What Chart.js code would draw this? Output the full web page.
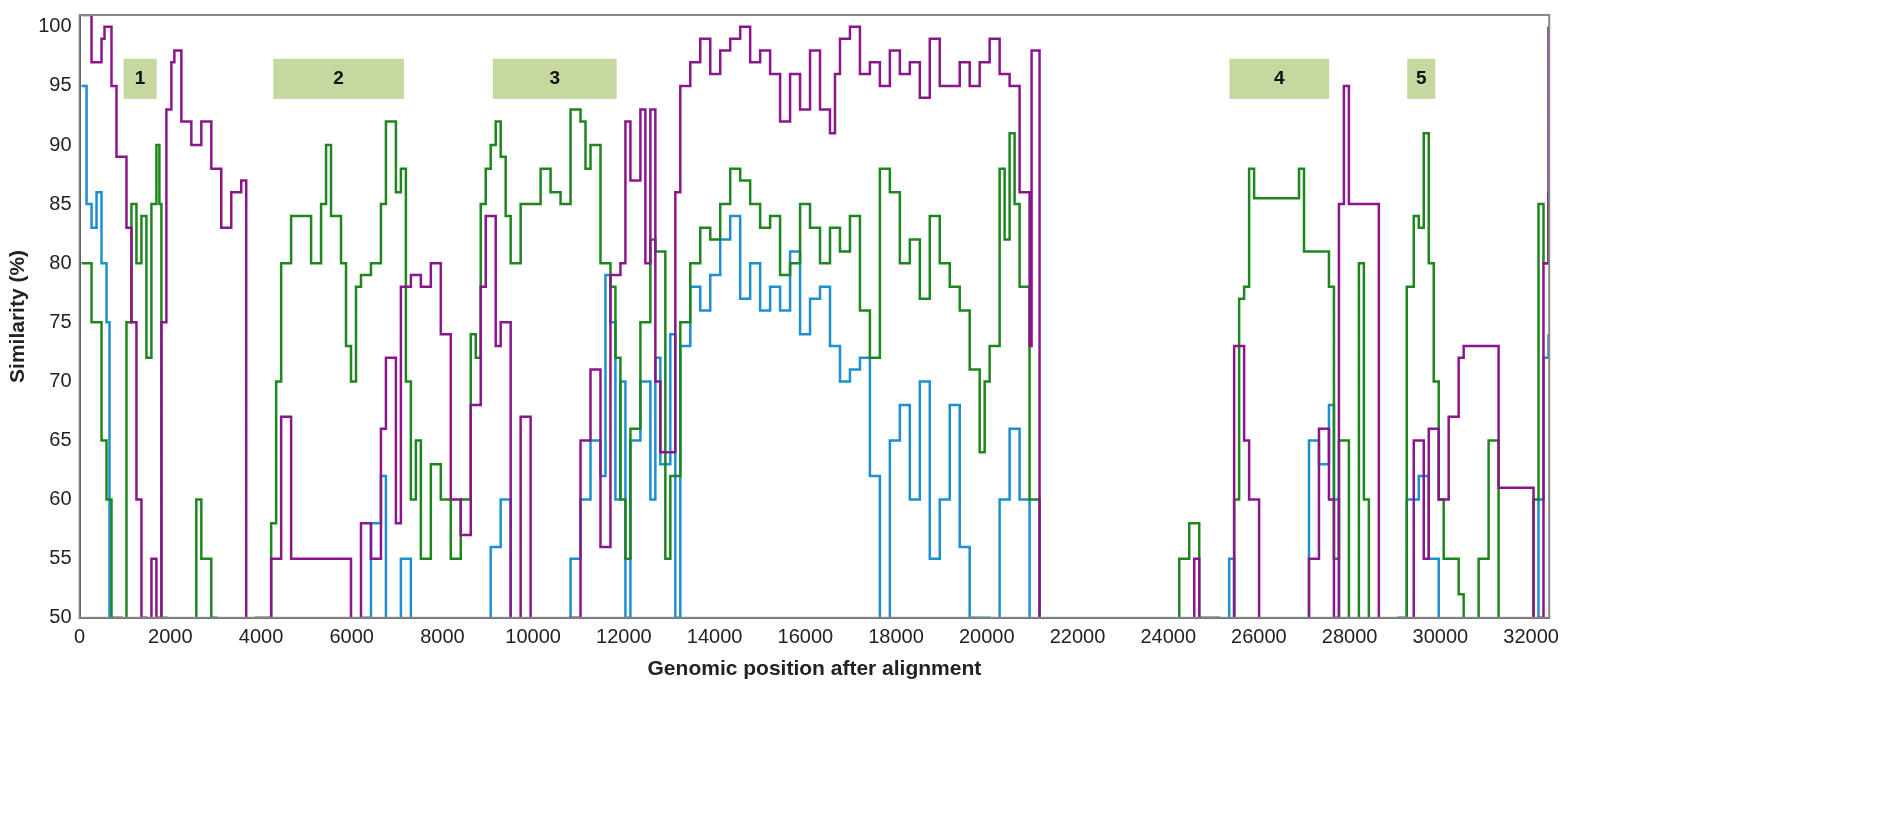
<!DOCTYPE html>
<html>
<head>
<meta charset="utf-8">
<script src="https://cdn.jsdelivr.net/npm/chart.js@4/dist/chart.umd.min.js"></script>
<style>
  body { margin: 0; background: #fff; }
  #wrap { position: absolute; left: 0; top: 0; width: 1562px; height: 834px; }
</style>
</head>
<body>
<div id="wrap"><canvas id="chart"></canvas></div>
<script>
// genomic positions / similarity values (values < 50 are off-scale)
const purpleX = [44,264,484,550,704,814,1034,1144,1254,1364,1474,1584,1694,1804,1914,2024,2090,2244,2464,2684,2904,3124,3344,3564,3674,4004,4224,4444,4664,5984,6204,6424,6644,6754,6974,7084,7304,7524,7744,7964,8184,8404,8624,8844,8954,9174,9284,9504,9724,9944,10164,10824,11044,11264,11484,11704,11924,12034,12144,12364,12474,12584,12694,12804,13024,13134,13244,13464,13684,13904,14124,14344,14564,14784,15004,15224,15444,15664,15884,16104,16324,16544,16654,16764,16984,17204,17424,17644,17864,18084,18304,18524,18744,18964,19404,19624,19844,20064,20284,20504,20724,20944,20988,21164,24464,24574,24684,25344,25454,25674,25784,25894,26004,27104,27324,27544,27654,27764,27874,27984,28644,29260,29414,29634,29744,29964,30184,30404,30514,30734,31064,31108,31284,31834,32054,32164,32274,32384];
const purpleY = [101,97,99,100,95,89,83,75,60,50,45,55,50,75,93,97,98,92,90,92,88,83,86,87,40,40,55,67,55,40,58,55,66,72,58,78,79,78,80,74,60,57,68,78,84,73,75,48,67,48,40,50,65,71,56,79,80,92,87,93,80,93,70,64,64,86,95,97,99,96,98,99,100,97,98,96,92,96,93,98,93,91,96,99,100,96,97,95,98,96,97,94,99,95,97,95,97,99,96,95,86,73,98,40,40,55,40,40,73,65,60,60,40,55,66,60,50,85,95,85,40,40,65,55,66,60,67,72,73,73,73,73,61,61,40,50,80,100,100];

const greenX = [44,264,484,594,704,924,1034,1144,1254,1364,1474,1584,1694,1760,1804,1914,2464,2574,2684,2904,3014,3894,4224,4334,4444,4664,4884,5104,5324,5434,5544,5764,5874,5984,6094,6204,6424,6644,6754,6974,7084,7194,7304,7414,7524,7744,7964,8184,8404,8624,8734,8844,8954,9064,9174,9284,9394,9504,9724,9834,10164,10384,10604,10824,11044,11154,11264,11484,11704,11814,11924,12034,12144,12364,12584,12694,12914,13024,13244,13464,13684,13904,14124,14344,14564,14784,15004,15224,15444,15664,15884,16104,16324,16544,16764,16984,17204,17424,17644,17864,18084,18304,18524,18744,18964,19184,19404,19624,19844,19954,20064,20284,20394,20504,20614,20724,20944,21164,24244,24464,24684,25124,25454,25564,25674,25784,25894,26774,26884,26994,27434,27544,27654,27764,27984,28204,28314,28424,29084,29260,29414,29524,29634,29744,29854,29964,30074,30404,30514,30844,31064,31284,32054,32164,32274,32384];
const greenY = [80,75,65,60,50,40,75,85,80,84,72,85,90,85,50,40,40,60,55,50,40,50,58,70,80,84,84,80,85,90,84,80,73,70,78,79,80,85,92,86,88,70,60,65,55,63,60,55,60,74,72,85,88,90,92,89,84,80,85,85,88,86,85,93,92,88,90,80,78,72,60,55,66,75,82,81,55,62,75,80,83,82,85,88,87,85,83,84,79,80,85,83,80,83,81,84,76,72,88,86,80,82,77,84,80,78,76,71,64,70,73,88,82,91,85,78,60,48,55,58,50,40,60,77,78,88,85.5,85.5,88,81,81,78,55,65,40,80,60,40,50,78,84,83,91,80,70,60,55,52,40,55,65,40,60,85,80,86];

const blueX = [44,154,264,374,484,594,660,704,5984,6204,6424,6644,6754,7084,7304,8844,9064,9284,9504,9724,10604,10824,11044,11264,11484,11594,11704,11814,11924,12034,12144,12364,12584,12694,12804,13024,13134,13244,13464,13684,13904,14124,14344,14564,14784,15004,15224,15444,15664,15884,16104,16324,16544,16764,16984,17204,17424,17644,17864,18084,18304,18524,18744,18964,19184,19404,19624,20064,20284,20504,20724,20944,21164,25344,25454,27104,27324,27544,27654,27764,29260,29524,29744,29964,32164,32274,32384];
const blueY = [95,85,83,86,80,75,50,40,40,50,58,62,40,55,40,40,56,60,48,40,40,55,60,65,62,79,75,60,70,50,65,70,60,72,63,74,50,73,78,76,79,82,84,77,80,76,78,76,81,74,77,78,73,70,71,72,62,40,65,68,60,70,55,60,68,56,50,40,60,66,60,47,40,55,40,65,63,68,60,40,60,62,55,40,60,72,74];

// highlighted regions
const boxLabels = ['1','2','3','4','5'];
const boxStart = [970,4270,9110,25350,29270];
const boxEnd = [1700,7150,11840,27550,29890];
const boxTop = 97.3, boxBottom = 93.9;

const xTicks = [0,2000,4000,6000,8000,10000,12000,14000,16000,18000,20000,22000,24000,26000,28000,30000,32000];
const yTicks = [50,55,60,65,70,75,80,85,90,95,100];

function pts(xs, ys) { return xs.map((x, i) => ({ x: x, y: ys[i] })); }

const font = 'Arial, "Liberation Sans", sans-serif';

const boxPlugin = {
  id: 'boxes',
  beforeDatasetsDraw(chart) {
    const { ctx, scales: { x, y } } = chart;
    ctx.save();
    for (let i = 0; i < boxLabels.length; i++) {
      const x0 = x.getPixelForValue(boxStart[i]), x1 = x.getPixelForValue(boxEnd[i]);
      const y0 = y.getPixelForValue(boxTop), y1 = y.getPixelForValue(boxBottom);
      ctx.fillStyle = '#c5d8a0';
      ctx.fillRect(x0, y0, x1 - x0, y1 - y0);
      ctx.fillStyle = '#111';
      ctx.font = 'bold 19px ' + font;
      ctx.textAlign = 'center';
      ctx.textBaseline = 'middle';
      ctx.fillText(boxLabels[i], (x0 + x1) / 2, (y0 + y1) / 2);
    }
    ctx.restore();
  },
  afterDraw(chart) {
    const a = chart.chartArea, ctx = chart.ctx;
    ctx.save();
    ctx.strokeStyle = '#888';
    ctx.lineWidth = 2;
    ctx.strokeRect(a.left, a.top, a.right - a.left, a.bottom - a.top);
    ctx.restore();
  }
};

const lineOpts = { stepped: true, borderWidth: 2.5, pointRadius: 0, fill: false };

new Chart(document.getElementById('chart'), {
  type: 'line',
  data: {
    datasets: [
      Object.assign({ data: pts(purpleX, purpleY), borderColor: '#8b168b', order: 1 }, lineOpts),
      Object.assign({ data: pts(greenX, greenY), borderColor: '#1e861e', order: 2 }, lineOpts),
      Object.assign({ data: pts(blueX, blueY), borderColor: '#1c8fd0', order: 3 }, lineOpts)
    ]
  },
  options: {
    responsive: true,
    maintainAspectRatio: false,
    animation: false,
    layout: { padding: { top: 14, right: 10, bottom: 148, left: 2 } },
    plugins: { legend: { display: false }, tooltip: { enabled: false } },
    scales: {
      x: {
        type: 'linear', min: 0, max: 32400,
        afterBuildTicks: s => { s.ticks = xTicks.map(v => ({ value: v })); },
        grid: { display: false, drawTicks: true, tickLength: 5, color: '#333' },
        border: { color: '#333', width: 2 },
        ticks: { color: '#222', font: { size: 20, family: font }, maxRotation: 0, callback: v => String(v) },
        title: { display: true, text: 'Genomic position after alignment', color: '#222', font: { size: 21, weight: 'bold', family: font }, padding: { top: 4 } }
      },
      y: {
        min: 50, max: 101,
        afterBuildTicks: s => { s.ticks = yTicks.map(v => ({ value: v })); },
        grid: { display: false, drawTicks: true, tickLength: 5 },
        border: { color: '#333', width: 2 },
        ticks: { color: '#222', font: { size: 20, family: font } },
        title: { display: true, text: 'Similarity (%)', color: '#222', font: { size: 21, weight: 'bold', family: font } }
      }
    }
  },
  plugins: [boxPlugin]
});
</script>
</body>
</html>
